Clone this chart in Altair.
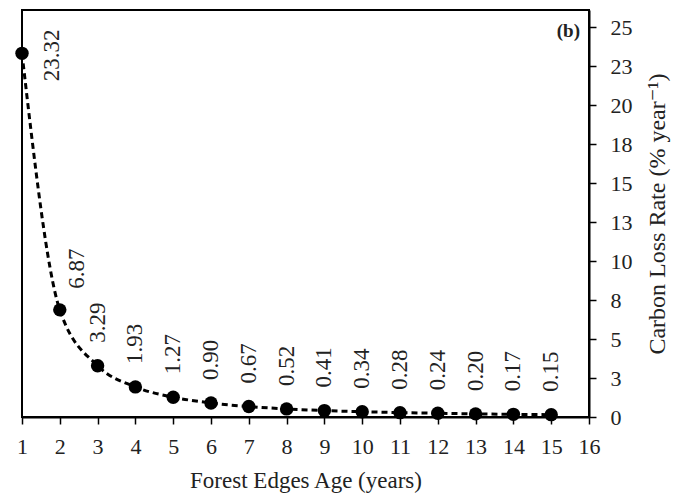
import altair as alt
import pandas as pd

ages = list(range(1, 16))
rates = [23.32, 6.87, 3.29, 1.93, 1.27, 0.90, 0.67, 0.52, 0.41, 0.34, 0.28, 0.24, 0.20, 0.17, 0.15]
x_ticks = list(range(1, 17))
y_ticks = [0, 2.5, 5, 7.5, 10, 12.5, 15, 17.5, 20, 22.5, 25]

df = pd.DataFrame({"age": ages, "rate": rates, "label": [f"{v:.2f}" for v in rates]})

FONT = "Liberation Serif, Times New Roman, DejaVu Serif, serif"
TXT = "#222222"

xenc = alt.X("age:Q", scale=alt.Scale(domain=[1, 16], nice=False),
             axis=alt.Axis(values=x_ticks, title="Forest Edges Age (years)", labelFlush=False))
yenc = alt.Y("rate:Q", scale=alt.Scale(domain=[0, 26.1], nice=False),
             axis=alt.Axis(orient="right", values=y_ticks, labelExpr="'' + round(datum.value)",
                           labelFlush=False,
                           title="Carbon Loss Rate (% year⁻¹)", titleAngle=270, titleBaseline="top"))

base = alt.Chart(df)

line = base.mark_line(color="black", strokeWidth=3, strokeDash=[6, 4], interpolate="monotone").encode(x=xenc, y=yenc)
pts = base.mark_circle(color="black", size=180, opacity=1).encode(x=xenc, y=yenc)

lab_main = base.transform_filter("datum.age >= 3").mark_text(
    angle=270, align="left", baseline="middle", dx=23, font=FONT, fontSize=23, color=TXT
).encode(x=xenc, y=yenc, text="label:N")
lab_2 = base.transform_filter("datum.age == 2").mark_text(
    angle=270, align="left", baseline="middle", dx=21, dy=17, font=FONT, fontSize=23, color=TXT
).encode(x=xenc, y=yenc, text="label:N")
lab_1 = base.transform_filter("datum.age == 1").mark_text(
    angle=270, align="center", baseline="middle", dx=-2, dy=30, font=FONT, fontSize=23, color=TXT
).encode(x=xenc, y=yenc, text="label:N")

panel = alt.Chart(pd.DataFrame({"t": ["(b)"]})).mark_text(
    align="right", baseline="alphabetic", font=FONT, fontSize=19, fontWeight="bold", color=TXT
).encode(text="t:N", x=alt.value(558), y=alt.value(27))

chart = alt.layer(line, pts, lab_main, lab_2, lab_1, panel).properties(
    width=567, height=407,
    autosize=alt.AutoSizeParams(type="none"),
    padding={"left": 22, "top": 10, "right": 86, "bottom": 79},
).configure_view(stroke="black", strokeWidth=2).configure_axis(
    grid=False, domainColor="black", domainWidth=2, tickColor="black", tickWidth=1.5, tickSize=7,
    labelFont=FONT, labelFontSize=22, labelColor=TXT, titleFont=FONT, titleFontSize=23,
    titleColor=TXT, titleFontWeight="normal"
).configure_axisX(labelPadding=12, titlePadding=12).configure_axisY(
    labelPadding=14, titlePadding=13, titleFontSize=24)

chart.save("out.html", embed_options={"renderer": "svg", "actions": False})
